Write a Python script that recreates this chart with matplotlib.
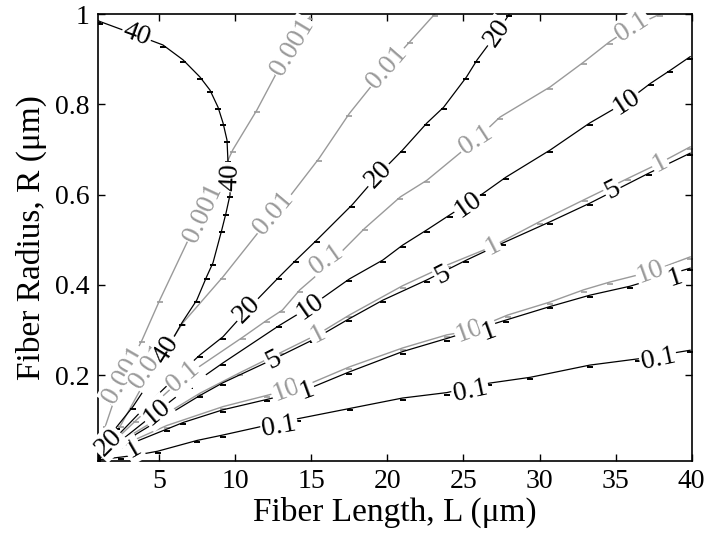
import matplotlib
matplotlib.use("Agg")
import matplotlib.pyplot as plt
from matplotlib.path import Path

plt.rcParams['font.family'] = ['Liberation Serif', 'DejaVu Serif']

# contour lines, L = fiber length (um), R = fiber radius (um)
# black contours
b01_L = [1.0, 2.5, 3.6, 4.9, 7.5, 9.2, 12.0, 14.1, 17.55, 21.0, 23.9, 26.7, 29.4, 33.3, 36.5, 39.9]
b01_R = [0.012, 0.018, 0.023, 0.031, 0.055, 0.067, 0.088, 0.103, 0.126, 0.149, 0.161, 0.182, 0.195, 0.222, 0.236, 0.255]
b1_L = [1.0, 3.3, 5.5, 6.6, 9.2, 12.1, 14.7, 17.5, 21.0, 23.9, 27.8, 30.7, 33.3, 35.95, 39.9]
b1_R = [0.015, 0.05, 0.08, 0.095, 0.123, 0.146, 0.168, 0.207, 0.252, 0.281, 0.322, 0.352, 0.377, 0.397, 0.437]
b5_L = [1.0, 3.3, 5.5, 7.7, 9.2, 12.5, 15.1, 17.5, 19.7, 22.6, 25.2, 27.6, 30.7, 33.3, 37.2, 39.9]
b5_R = [0.018, 0.065, 0.11, 0.155, 0.183, 0.235, 0.278, 0.325, 0.366, 0.411, 0.455, 0.493, 0.54, 0.581, 0.648, 0.692]
b10_L = [1.0, 2.5, 4.85, 7.0, 9.2, 12.9, 14.9, 17.5, 19.7, 21.0, 22.6, 24.1, 26.3, 27.8, 30.7, 33.3, 35.7, 37.3, 38.6, 39.9]
b10_R = [0.02, 0.055, 0.118, 0.175, 0.227, 0.31, 0.351, 0.413, 0.455, 0.488, 0.522, 0.555, 0.603, 0.639, 0.699, 0.759, 0.806, 0.847, 0.876, 0.906]
b20_L = [1.0, 2.4, 4.4, 6.4, 7.7, 9.2, 10.8, 12.9, 14.0, 15.35, 17.7, 19.4, 21.0, 22.6, 23.7, 25.2, 25.9, 27.2, 28.0]
b20_R = [0.02, 0.07, 0.14, 0.205, 0.245, 0.285, 0.345, 0.418, 0.455, 0.499, 0.578, 0.644, 0.699, 0.759, 0.794, 0.861, 0.899, 0.958, 1.0]
b40_L = [1.0, 2.21, 3.28, 4.6, 5.5, 6.5, 7.47, 8.12, 8.54, 9.11, 9.4, 9.66, 9.66, 9.52, 9.46, 9.20, 8.87, 8.34, 7.68, 6.57, 5.25, 3.52, 1.11, 1.0]
b40_R = [0.02, 0.085, 0.13, 0.197, 0.256, 0.316, 0.366, 0.418, 0.449, 0.521, 0.56, 0.6, 0.639, 0.677, 0.721, 0.759, 0.794, 0.832, 0.861, 0.899, 0.932, 0.954, 0.984, 0.986]

# gray contours
g0001_L = [1.0, 1.5, 2.0, 2.7, 3.87, 5.05, 7.0, 7.88, 8.6, 9.85, 11.43, 12.75, 13.74, 14.9]
g0001_R = [0.02, 0.09, 0.14, 0.2, 0.277, 0.367, 0.506, 0.559, 0.61, 0.70, 0.788, 0.872, 0.927, 0.994]
g001_L = [1.0, 2.5, 4.3, 6.57, 9.2, 11.6, 12.5, 13.4, 15.5, 17.5, 19.95, 21.5, 23.1]
g001_R = [0.02, 0.09, 0.2, 0.316, 0.418, 0.52, 0.559, 0.588, 0.68, 0.78, 0.883, 0.94, 1.0]
g01_L = [1.0, 3.5, 6.6, 10.5, 12.1, 13.1, 14.25, 16.0, 18.5, 20.85, 22.6, 25.8, 27.4, 30.7, 32.9, 34.6, 36.1, 37.9]
g01_R = [0.02, 0.1, 0.195, 0.284, 0.322, 0.344, 0.389, 0.44, 0.525, 0.595, 0.632, 0.721, 0.772, 0.839, 0.894, 0.939, 0.972, 1.0]
g1_L = [1.0, 3.3, 5.5, 7.7, 10.3, 13.0, 15.4, 17.5, 21.0, 24.0, 26.9, 30.0, 33.0, 35.8, 37.9, 39.9]
g1_R = [0.02, 0.07, 0.115, 0.16, 0.205, 0.25, 0.29, 0.333, 0.398, 0.445, 0.485, 0.54, 0.59, 0.636, 0.67, 0.706]
g10_L = [1.0, 3.3, 5.5, 9.2, 12.1, 13.35, 14.7, 17.5, 21.0, 23.9, 25.4, 27.9, 30.7, 32.9, 34.6, 37.3, 39.9]
g10_R = [0.018, 0.055, 0.088, 0.13, 0.155, 0.166, 0.178, 0.218, 0.26, 0.289, 0.298, 0.333, 0.362, 0.389, 0.406, 0.429, 0.462]

black_lines = [(b01_L, b01_R), (b1_L, b1_R), (b5_L, b5_R), (b10_L, b10_R), (b20_L, b20_R), (b40_L, b40_R)]
gray_lines = [(g0001_L, g0001_R), (g001_L, g001_R), (g01_L, g01_R), (g1_L, g1_R), (g10_L, g10_R)]

# inline labels: text, L, R, angle on screen
black_lbl_txt = ['0.1', '0.1', '0.1', '1', '1', '1', '1', '5', '5', '5', '10', '10', '10', '10', '20', '20', '20', '20', '40', '40', '40']
black_lbl_L = [12.9, 25.45, 37.8, 3.3, 14.7, 26.7, 38.9, 12.5, 23.65, 34.8, 4.85, 14.9, 25.3, 35.7, 1.7, 10.8, 19.4, 27.2, 3.52, 9.66, 5.5]
black_lbl_R = [0.085, 0.165, 0.235, 0.036, 0.165, 0.296, 0.415, 0.233, 0.422, 0.61, 0.118, 0.351, 0.577, 0.806, 0.05, 0.345, 0.644, 0.958, 0.954, 0.639, 0.256]
black_lbl_rot = [10, 12, 12, 30, 20, 20, 18, 27, 27, 27, 40, 35, 35, 33, 45, 45, 46, 55, -20, 88, 58]

gray_lbl_txt = ['0.001', '0.001', '0.001', '0.01', '0.01', '0.01', '0.1', '0.1', '0.1', '0.1', '1', '1', '1', '10', '10', '10']
gray_lbl_L = [2.7, 7.88, 13.74, 4.3, 12.5, 19.95, 6.6, 16.0, 25.8, 36.1, 15.4, 26.9, 37.9, 13.35, 25.4, 37.3]
gray_lbl_R = [0.2, 0.559, 0.927, 0.22, 0.559, 0.883, 0.195, 0.455, 0.721, 0.972, 0.29, 0.485, 0.67, 0.166, 0.298, 0.429]
gray_lbl_rot = [60, 65, 59, 55, 50, 49, 40, 35, 33, 33, 27, 27, 27, 20, 20, 20]

GRAY = '#9a9a9a'
tick_mark = Path([(-1.0, -0.5), (1.0, -0.5)], [Path.MOVETO, Path.LINETO])

fig = plt.figure(figsize=(7.04, 5.42), dpi=100)
ax = fig.add_axes([0.1396, 0.15, 0.8429, 0.8236])

for L, R in gray_lines:
    ax.plot(L, R, color=GRAY, lw=1.0, marker=tick_mark, ms=5, mew=1.2, zorder=2)
for L, R in black_lines:
    ax.plot(L, R, color='black', lw=0.9, marker=tick_mark, ms=5, mew=1.4, zorder=3)

box = dict(boxstyle='square,pad=0.05', fc='white', ec='none')
for t, x, y, r in zip(gray_lbl_txt, gray_lbl_L, gray_lbl_R, gray_lbl_rot):
    ax.text(x, y, t, color=GRAY, fontsize=20, rotation=r, rotation_mode='anchor',
            ha='center', va='center', bbox=box, zorder=4)
for t, x, y, r in zip(black_lbl_txt, black_lbl_L, black_lbl_R, black_lbl_rot):
    ax.text(x, y, t, color='black', fontsize=20, rotation=r, rotation_mode='anchor',
            ha='center', va='center', bbox=box, zorder=5)

ax.set_xlim(1, 40)
ax.set_ylim(0.01, 1)
ax.set_xticks([5, 10, 15, 20, 25, 30, 35, 40])
ax.set_yticks([0.2, 0.4, 0.6, 0.8, 1.0])
ax.set_yticklabels(['0.2', '0.4', '0.6', '0.8', '1'])
ax.tick_params(direction='in', top=True, right=True, length=5, width=1, labelsize=20, pad=6)
for s in ax.spines.values():
    s.set_linewidth(1.2)

ax.set_xlabel('Fiber Length, L (\u03bcm)', fontsize=24, labelpad=2)
ax.set_ylabel('Fiber Radius, R (\u03bcm)', fontsize=24, labelpad=6)

fig.savefig('out.png', dpi=100)
